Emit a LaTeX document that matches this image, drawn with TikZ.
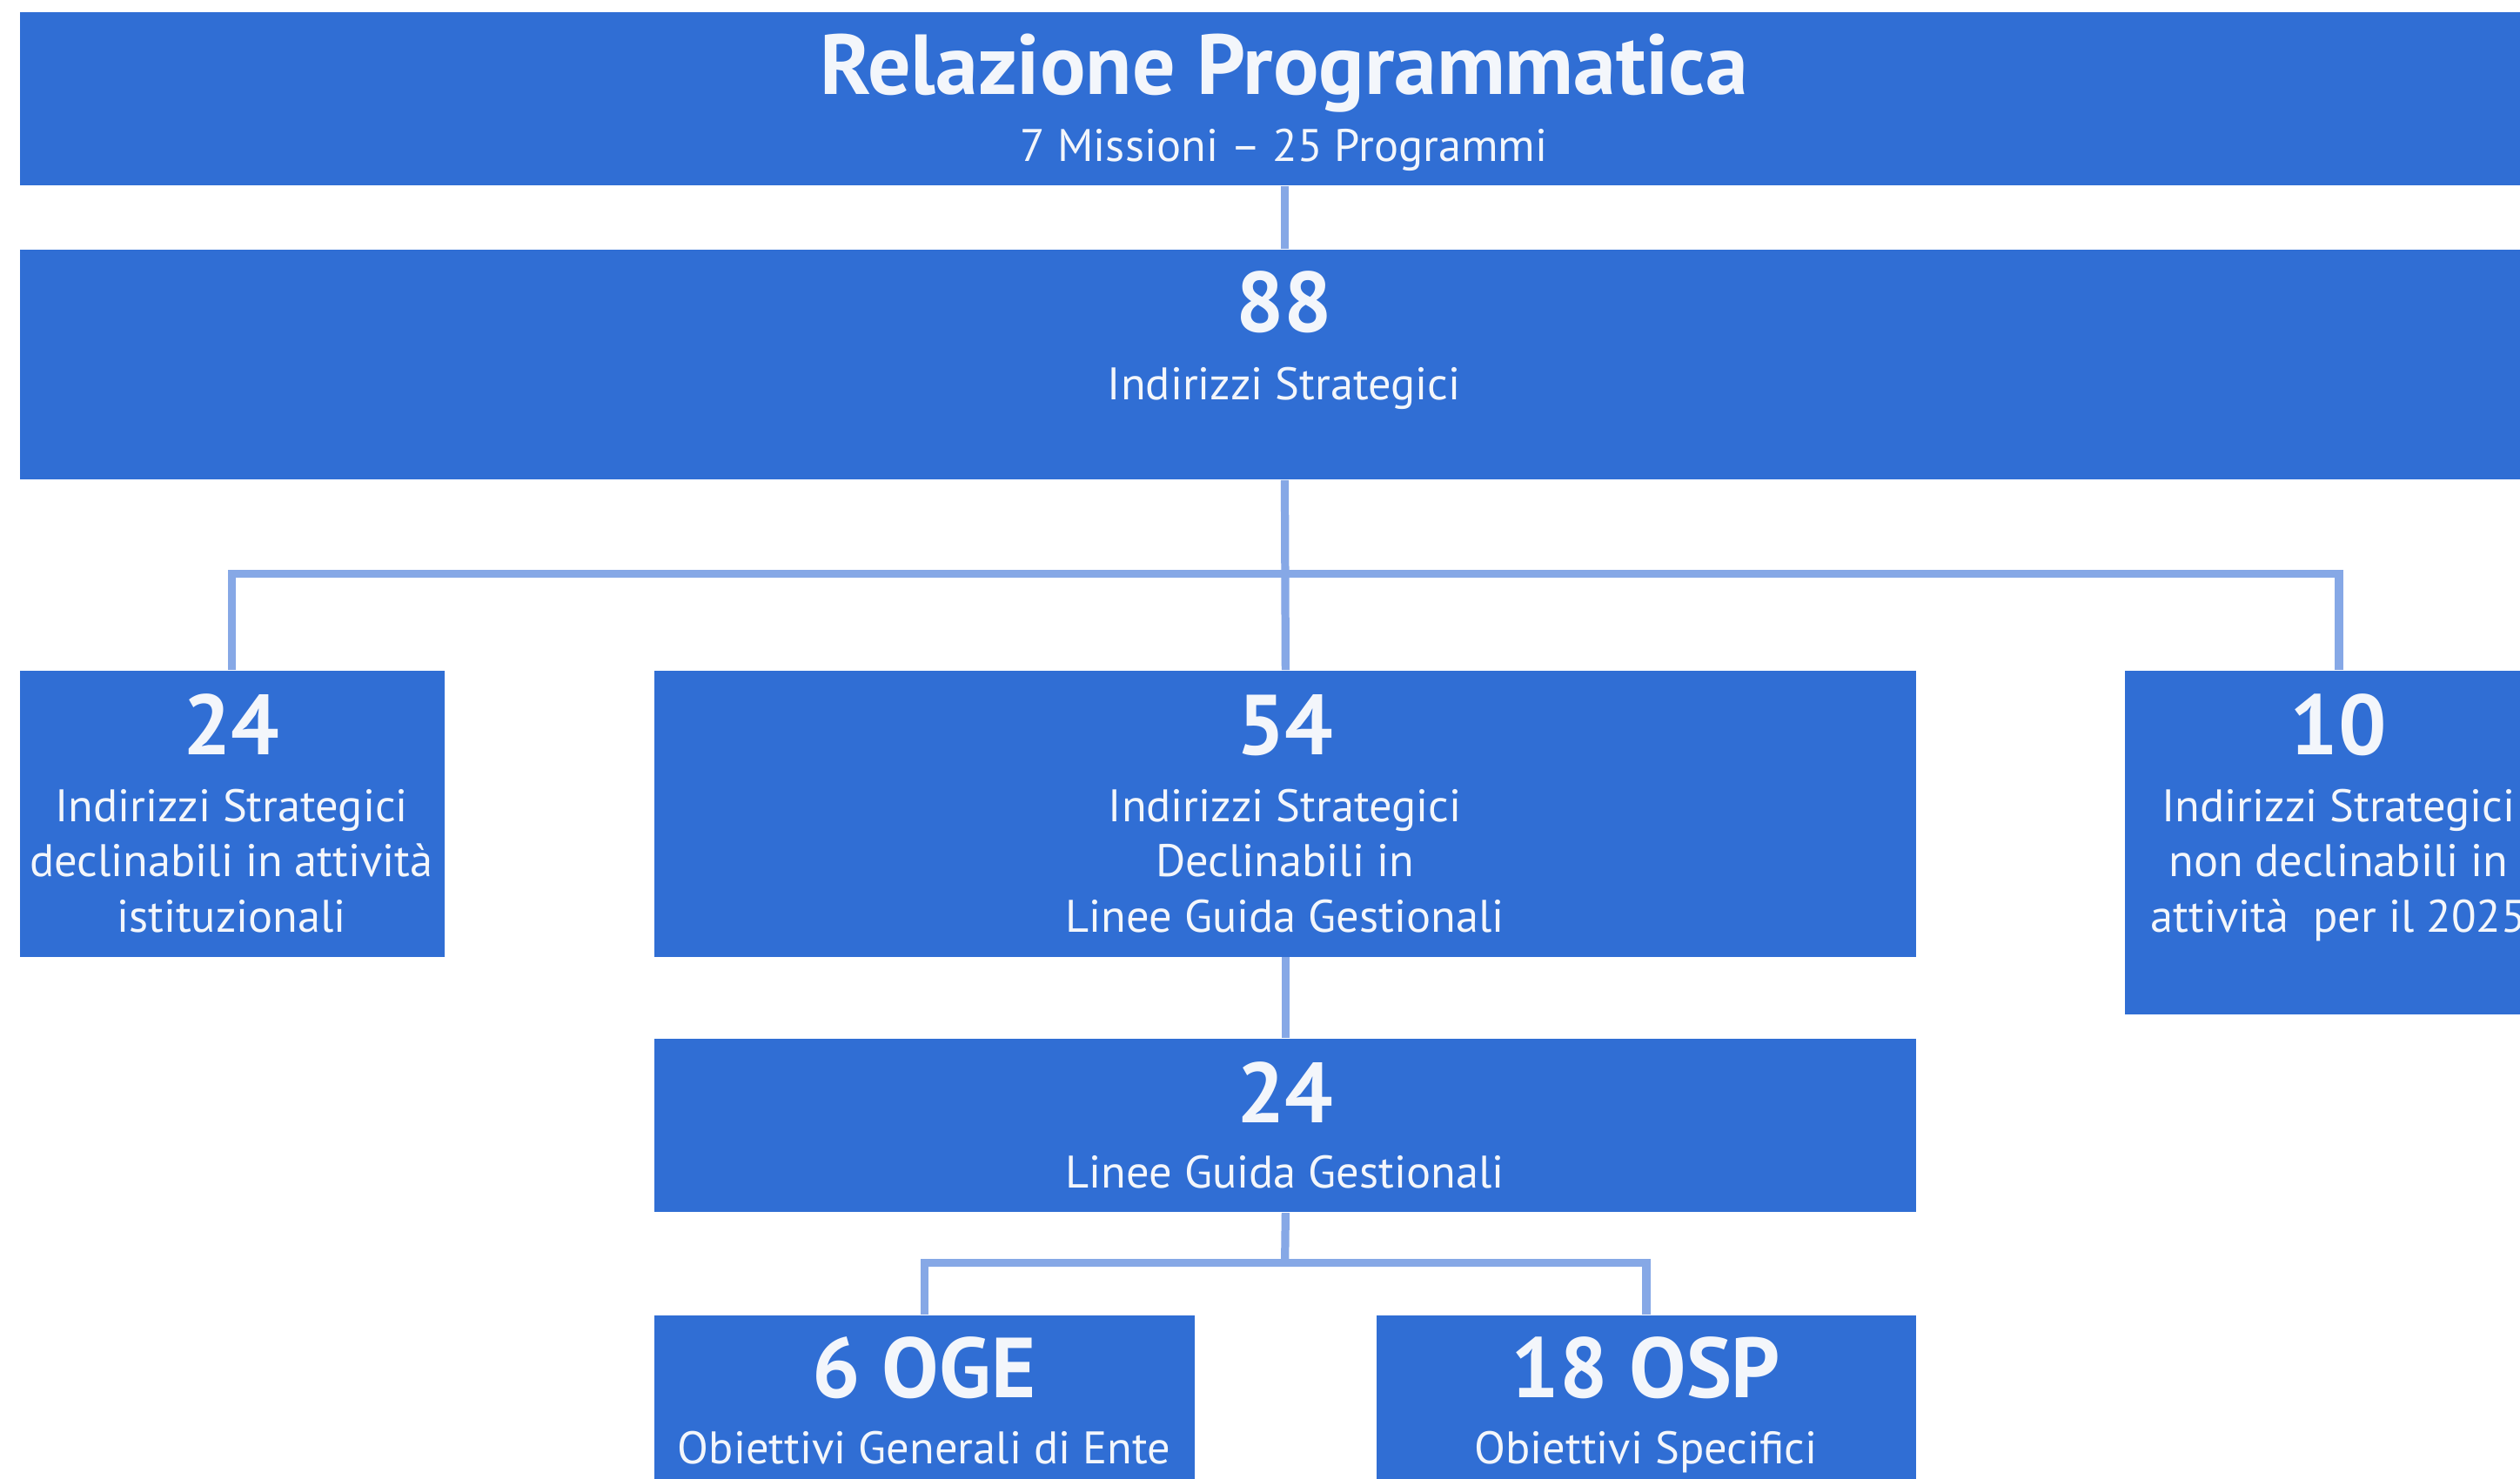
\documentclass[tikz,border=0pt]{standalone}
\usepackage{fontspec}
\setmainfont{PT Sans}
\usepackage{tikz}

\definecolor{boxblue}{HTML}{306ED4}
\definecolor{linkblue}{HTML}{86A8E6}
\definecolor{txtwhite}{HTML}{F3F6FB}

\begin{document}
\begin{tikzpicture}[x=0.5pt, y=-0.5pt,
    box/.style={fill=boxblue, inner sep=0pt, anchor=north west},
    big/.style={text=txtwhite, anchor=base, inner sep=0pt,
      font=\fontsize{26.5}{30}\selectfont\bfseries},
    small/.style={text=txtwhite, anchor=base, inner sep=0pt, align=center,
      font=\fontsize{14.2}{17.25}\selectfont},
    link/.style={draw=linkblue, line width=2.5pt}]
    \useasboundingbox (0,0) rectangle (1568,920);
    % boxes
    \node[box, minimum width=787pt, minimum height=54pt] (rp) at (12,7) {};
    \node[box, minimum width=787pt, minimum height=71.5pt] (is88) at (12,155) {};
    \node[box, minimum width=132pt, minimum height=89pt] (is24) at (12,417) {};
    \node[box, minimum width=392.5pt, minimum height=89pt] (is54) at (407,417) {};
    \node[box, minimum width=133pt, minimum height=107pt] (is10) at (1322,417) {};
    \node[box, minimum width=392.5pt, minimum height=54pt] (lgg) at (407,646) {};
    \node[box, minimum width=168pt, minimum height=55pt] (oge) at (407,818) {};
    \node[box, minimum width=168pt, minimum height=55pt] (osp) at (856,818) {};
    % texts (a multi-line node sits on its last baseline)
    \node[big] (rp-t) at (799,58.7) {Relazione Programmatica};
    \node[small] (rp-s) at (799,100.2) {7 Missioni -- 25 Programmi};
    \node[big] (is88-n) at (799,206.6) {88};
    \node[small] (is88-t) at (799,248.7) {Indirizzi Strategici};
    \node[big] (is24-n) at (144,469.6) {24};
    \node[small] (is24-t) at (144,580.2)
      {Indirizzi Strategici\\declinabili in attività\\istituzionali};
    \node[big] (is54-n) at (799.5,469.6) {54};
    \node[small] (is54-t) at (799.5,580.2)
      {Indirizzi Strategici\\Declinabili in\\Linee Guida Gestionali};
    \node[big] (is10-n) at (1455,469.6) {10};
    \node[small] (is10-t) at (1455,580.2)
      {Indirizzi Strategici\\non declinabili in\\attività\ \ per il 2025};
    \node[big] (lgg-n) at (799.5,698.6) {24};
    \node[small] (lgg-t) at (799.5,739.5) {Linee Guida Gestionali};
    \node[big] (oge-n) at (575,869.6) {6 OGE};
    \node[small] (oge-t) at (575,911) {Obiettivi Generali di Ente};
    \node[big] (osp-n) at (1024,869.6) {18 OSP};
    \node[small] (osp-t) at (1024,911) {Obiettivi Specifici};
    % connectors
    \coordinate (hub1) at (799,357);
    \coordinate (hub2) at (799.5,786);
    \draw[link] (rp.south) -- (is88.north);
    \draw[link] (is88.south) -- (is54.north);
    \draw[link] (is24.north) |- (hub1) -| (is10.north);
    \draw[link] (is54.south) -- (lgg.north);
    \draw[link] (lgg.south) -- (hub2);
    \draw[link] (oge.north) |- (hub2) -| (osp.north);
\end{tikzpicture}
\end{document}
